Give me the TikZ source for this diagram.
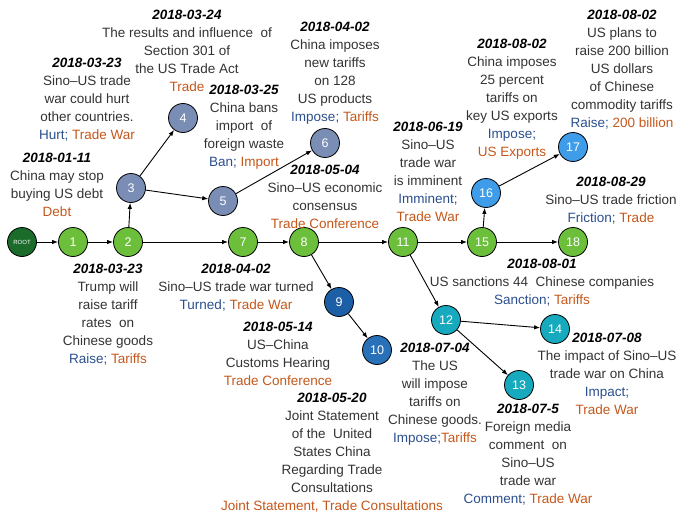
\documentclass[tikz,border=0pt]{standalone}
\usepackage{fontspec}
\setmainfont{Liberation Sans}
\usepackage{xcolor}
\usepackage{tikz}
\usetikzlibrary{arrows.meta}

\definecolor{rootGreen}{HTML}{1B6B2B}
\definecolor{mainGreen}{HTML}{6CBF3A}
\definecolor{slateBlue}{HTML}{7A8DB5}
\definecolor{deepBlue}{HTML}{1D5FA6}
\definecolor{midBlue}{HTML}{2870B8}
\definecolor{tealBlue}{HTML}{17A9BD}
\definecolor{skyBlue}{HTML}{3F9CE8}
\definecolor{kwBlue}{HTML}{2B4F8E}
\definecolor{tpOrange}{HTML}{C4571A}
\definecolor{textGray}{HTML}{333333}

\newcommand{\dt}[1]{{\color{black}\bfseries\itshape #1}}
\newcommand{\kw}[1]{\textcolor{kwBlue}{#1}}
\newcommand{\tp}[1]{\textcolor{tpOrange}{#1}}

\tikzset{
  event/.style={circle, draw=black, line width=0.8pt, minimum size=29pt, inner sep=0pt,
    text=white, font=\fontsize{12.5}{12.5}\selectfont},
  info/.style={align=center, inner sep=0pt, anchor=north, text=textGray,
    font=\fontsize{13.5}{18}\selectfont},
  link/.style={-{Latex[length=6pt,width=4.5pt]}, line width=0.9pt},
}

\begin{document}
\begin{tikzpicture}[x=1pt, y=-1pt]
    \useasboundingbox (0,0) rectangle (681,514);
    % event nodes
    \node[event, fill=rootGreen, font=\fontsize{6}{6}\selectfont] (root) at (22,242) {ROOT};
    \node[event, fill=mainGreen] (e1) at (73,242) {1};
    \node[event, fill=mainGreen] (e2) at (128,242) {2};
    \node[event, fill=slateBlue] (e3) at (131,188) {3};
    \node[event, fill=slateBlue] (e4) at (183,118) {4};
    \node[event, fill=slateBlue] (e5) at (223,201) {5};
    \node[event, fill=slateBlue] (e6) at (325,143) {6};
    \node[event, fill=mainGreen] (e7) at (243,242) {7};
    \node[event, fill=mainGreen] (e8) at (304,242) {8};
    \node[event, fill=deepBlue] (e9) at (339,302) {9};
    \node[event, fill=midBlue] (e10) at (377,350) {10};
    \node[event, fill=mainGreen] (e11) at (403,242) {11};
    \node[event, fill=tealBlue] (e12) at (446,320) {12};
    \node[event, fill=tealBlue] (e13) at (519,385) {13};
    \node[event, fill=tealBlue] (e14) at (555,329) {14};
    \node[event, fill=mainGreen] (e15) at (482,242) {15};
    \node[event, fill=skyBlue] (e16) at (486,193) {16};
    \node[event, fill=skyBlue] (e17) at (573,147) {17};
    \node[event, fill=mainGreen] (e18) at (573,242) {18};

    % connectors
    \draw[link] (root) -- (e1);
    \draw[link] (e1) -- (e2);
    \draw[link] (e2) -- (e3);
    \draw[link] (e2) -- (e7);
    \draw[link] (e3) -- (e4);
    \draw[link] (e3) -- (e5);
    \draw[link] (e5) -- (e6);
    \draw[link] (e7) -- (e8);
    \draw[link] (e8) -- (e11);
    \draw[link] (e8) -- (e9);
    \draw[link] (e9) -- (e10);
    \draw[link] (e11) -- (e15);
    \draw[link] (e11) -- (e12);
    \draw[link] (e12) -- (e14);
    \draw[link] (e12) -- (e13);
    \draw[link] (e15) -- (e16);
    \draw[link] (e16) -- (e17);
    \draw[link] (e15) -- (e18);

    % labels above the main line
    \node[info] (info1) at (57,153) {\dt{2018-01-11}\\China may stop\\buying US debt\\\tp{Debt}};
    \node[info] (info3) at (87,58) {\dt{2018-03-23}\\Sino--US trade\\war could hurt\\other countries.\\\kw{Hurt;} \tp{Trade War}};
    \node[info] (info4) at (187,10) {\dt{2018-03-24}\\The results and influence~ of\\Section 301 of\\the US Trade Act\\\tp{Trade}};
    \node[info] (info5) at (244,85) {\dt{2018-03-25}\\China bans\\import~ of\\foreign waste\\\kw{Ban;} \tp{Import}};
    \node[info] (info6) at (335,22) {\dt{2018-04-02}\\China imposes\\new tariffs\\on 128\\US products\\\kw{Impose;} \tp{Tariffs}};
    \node[info] (info8) at (325,165) {\dt{2018-05-04}\\Sino--US economic\\consensus\\\tp{Trade Conference}};
    \node[info] (info11) at (428,122) {\dt{2018-06-19}\\Sino--US\\trade war\\is imminent\\\kw{Imminent;}\\\tp{Trade War}};
    \node[info] (info16) at (512,39) {\dt{2018-08-02}\\China imposes\\25 percent\\tariffs on\\key US exports\\\kw{Impose;}\\\tp{US Exports}};
    \node[info] (info17) at (622,10) {\dt{2018-08-02}\\US plans to\\raise 200 billion\\US dollars\\of Chinese\\commodity tariffs\\\kw{Raise;} \tp{200 billion}};
    \node[info] (info18) at (611,177) {\dt{2018-08-29}\\Sino--US trade friction\\\kw{Friction;} \tp{Trade}};

    % labels below the main line
    \node[info] (info2) at (108,264) {\dt{2018-03-23}\\Trump will\\raise tariff\\rates~ on\\Chinese goods\\\kw{Raise;} \tp{Tariffs}};
    \node[info] (info7) at (236,264) {\dt{2018-04-02}\\Sino--US trade war turned\\\kw{Turned;} \tp{Trade War}};
    \node[info] (info9) at (278,322) {\dt{2018-05-14}\\US--China\\Customs Hearing\\\tp{Trade Conference}};
    \node[info] (info10) at (332,393) {\dt{2018-05-20}\\Joint Statement\\of the~ United\\States China\\Regarding Trade\\Consultations\\\tp{Joint Statement, Trade Consultations}};
    \node[info] (info15) at (542,259) {\dt{2018-08-01}\\US sanctions 44~ Chinese companies\\\kw{Sanction;} \tp{Tariffs}};
    \node[info] (info12) at (435,343) {\dt{2018-07-04}\\The US\\will impose\\tariffs on\\Chinese goods.\\\kw{Impose;}\tp{Tariffs}};
    \node[info] (info13) at (528,404) {\dt{2018-07-5}\\Foreign media\\comment~ on\\Sino--US\\trade war\\\kw{Comment;} \tp{Trade War}};
    \node[info] (info14) at (607,333) {\dt{2018-07-08}\\The impact of Sino--US\\trade war on China\\\kw{Impact;}\\\tp{Trade War}};
\end{tikzpicture}
\end{document}
